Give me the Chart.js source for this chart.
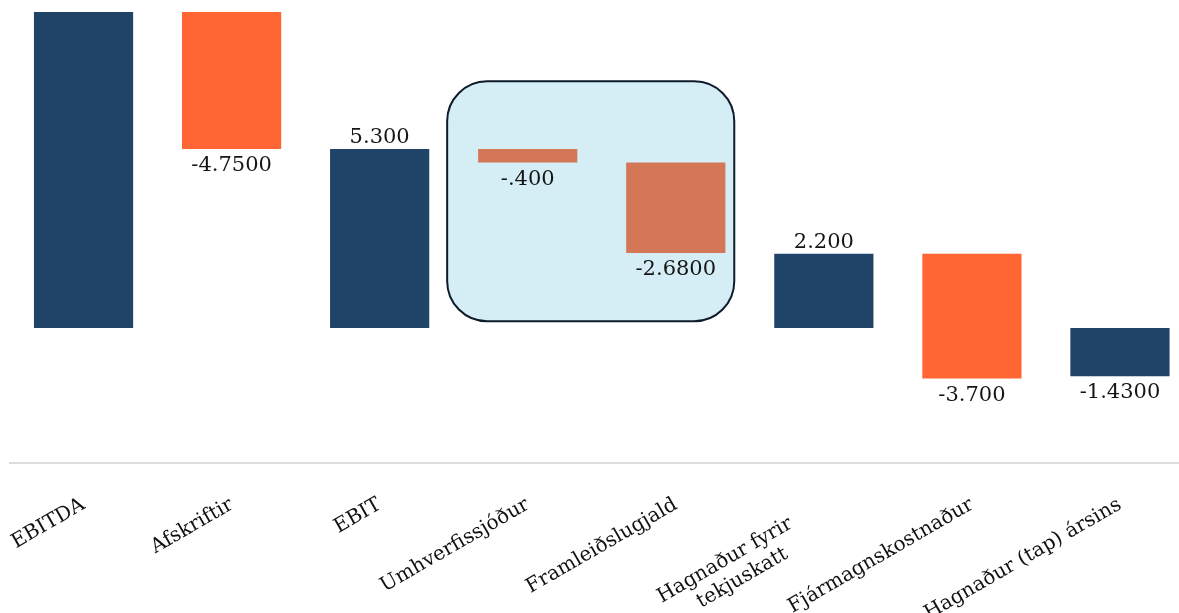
<!DOCTYPE html>
<html>
<head>
<meta charset="utf-8">
<script src="https://cdn.jsdelivr.net/npm/chart.js@4"></script>
<style>
  body { margin: 0; background: #fff; overflow: hidden; }
  #wrap { width: 1179px; height: 613px; overflow: hidden; }
</style>
</head>
<body>
<div id="wrap"><canvas id="myChart" width="1194" height="613"></canvas></div>
<script>
//Data_
// the two-line label is centred in the original, trailing spaces push it left
const categories = ['EBITDA', 'Afskriftir', 'EBIT', 'Umhverfissjóður', 'Framleiðslugjald', ['Hagnaður fyrir      ', 'tekjuskatt         '], 'Fjármagnskostnaður', 'Hagnaður (tap) ársins'];
const barStart = [0, 10.05, 0, 5.3, 4.9, 0, 2.2, 0];
const barEnd = [10.05, 5.3, 5.3, 4.9, 2.22, 2.2, -1.5, -1.43];
const valueLabels = ['10.050', '-4.7500', '5.300', '-.400', '-2.6800', '2.200', '-3.700', '-1.4300'];
// highlighted group (category index range, value range)
const boxCats = [2.456, 4.395];
const boxVals = [0.2, 7.31];

//Styles_
const navy = '#1f4468';
const orange = '#ff6633';
const muted = '#d37756';
const barColors = [navy, orange, navy, muted, muted, navy, orange, navy];
const font = "'DejaVu Serif', serif";

const graph = document.getElementById('myChart');

//Plugins_
const boxPlugin = {
    id: 'box',
    beforeDatasetsDraw(chart) {
        const ctx = chart.ctx;
        const x = chart.scales.x;
        const y = chart.scales.y;
        const left = x.getPixelForValue(boxCats[0]);
        const right = x.getPixelForValue(boxCats[1]);
        const top = y.getPixelForValue(boxVals[1]);
        const bottom = y.getPixelForValue(boxVals[0]);
        ctx.save();
        ctx.beginPath();
        ctx.roundRect(left, top, right - left, bottom - top, 40);
        ctx.fillStyle = '#d5eef5';
        ctx.fill();
        ctx.lineWidth = 2;
        ctx.strokeStyle = '#0e1b2b';
        ctx.stroke();
        ctx.restore();
    }
};

const labelPlugin = {
    id: 'valueLabels',
    afterDatasetsDraw(chart) {
        const ctx = chart.ctx;
        const meta = chart.getDatasetMeta(0);
        ctx.save();
        ctx.font = '21px ' + font;
        ctx.fillStyle = '#151515';
        ctx.textAlign = 'center';
        meta.data.forEach((bar, i) => {
            const up = barEnd[i] > barStart[i];
            const top = Math.min(bar.y, bar.base);
            const bottom = Math.max(bar.y, bar.base);
            if (up) {
                ctx.textBaseline = 'bottom';
                ctx.fillText(valueLabels[i], bar.x, top - 1);
            } else {
                ctx.textBaseline = 'top';
                ctx.fillText(valueLabels[i], bar.x, bottom + 6);
            }
        });
        ctx.restore();
    }
};

//Chart_
const config = {
    type: 'bar',
    data: {
        labels: categories,
        datasets: [{
            data: barStart.map((s, i) => [s, barEnd[i]]),
            backgroundColor: barColors,
            borderWidth: 0,
            categoryPercentage: 1,
            barPercentage: 0.67
        }]
    },
    options: {
        responsive: false,
        animation: false,
        devicePixelRatio: 1,
        layout: { padding: { top: 12, left: 9.5, right: 0, bottom: 0 } },
        plugins: {
            legend: { display: false },
            tooltip: { enabled: false }
        },
        scales: {
            x: {
                afterFit: (s) => {
                    s.height = 150;
                    s.paddingLeft = 0;
                    s.paddingRight = 0;
                },
                grid: { display: false, drawTicks: false },
                border: { color: '#dcdcdc', width: 2 },
                ticks: {
                    color: '#111',
                    font: { family: font, size: 20 },
                    minRotation: 30,
                    maxRotation: 30,
                    autoSkip: false,
                    padding: 30
                }
            },
            y: {
                display: false,
                min: -4,
                max: 9.36
            }
        }
    },
    plugins: [boxPlugin, labelPlugin]
};

const chart = new Chart(graph, config);
</script>
</body>
</html>
